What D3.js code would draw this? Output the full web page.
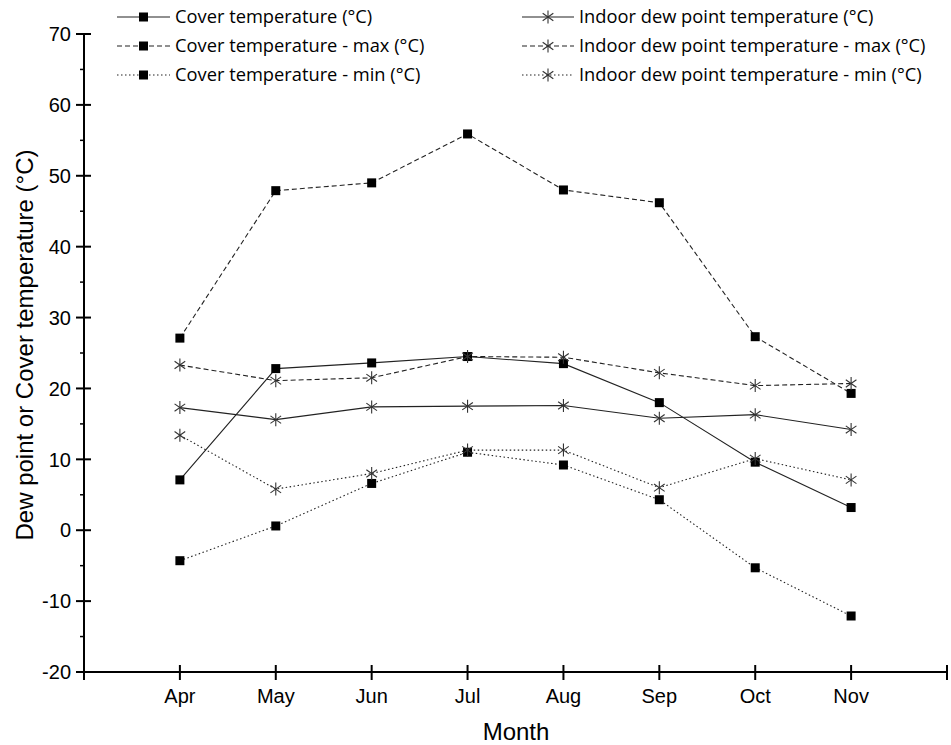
<!DOCTYPE html>
<html>
<head>
<meta charset="utf-8">
<script src="https://cdn.jsdelivr.net/npm/d3@7"></script>
<style>
  html, body { margin: 0; padding: 0; background: #fff; }
  svg { display: block; }
  .axis-text { font-family: "Liberation Sans", Arial, sans-serif; }
  .legend-text { font-family: "Open Sans", "Noto Sans", sans-serif; }
</style>
</head>
<body>
<svg id="chart" width="951" height="745"></svg>
<script>
// Monthly categories
const months = ["Apr", "May", "Jun", "Jul", "Aug", "Sep", "Oct", "Nov"];

// Cover temperature (°C)
const coverTemp    = [7.1, 22.8, 23.6, 24.5, 23.5, 18.0, 9.6, 3.2];
const coverTempMax = [27.1, 47.9, 49.0, 55.9, 48.0, 46.2, 27.3, 19.3];
const coverTempMin = [-4.3, 0.6, 6.6, 11.0, 9.2, 4.3, -5.3, -12.1];

// Indoor dew point temperature (°C)
const dewPoint     = [17.3, 15.6, 17.4, 17.5, 17.6, 15.8, 16.3, 14.2];
const dewPointMax  = [23.3, 21.1, 21.5, 24.5, 24.4, 22.2, 20.4, 20.7];
const dewPointMin  = [13.4, 5.8, 8.0, 11.3, 11.3, 6.0, 10.1, 7.1];

// Axis ticks
const yTicks = [-20, -10, 0, 10, 20, 30, 40, 50, 60, 70];
const yMinorTicks = [-15, -5, 5, 15, 25, 35, 45, 55, 65];

const series = [
  { name: "Cover temperature (°C)", values: coverTemp, marker: "square", dash: null },
  { name: "Cover temperature - max (°C)", values: coverTempMax, marker: "square", dash: "5,3" },
  { name: "Cover temperature - min (°C)", values: coverTempMin, marker: "square", dash: "1.5,2.5" },
  { name: "Indoor dew point temperature (°C)", values: dewPoint, marker: "star", dash: null },
  { name: "Indoor dew point temperature - max (°C)", values: dewPointMax, marker: "star", dash: "5,3" },
  { name: "Indoor dew point temperature - min (°C)", values: dewPointMin, marker: "star", dash: "1.5,2.5" }
];

const svg = d3.select("#chart");
const plotLeft = 84, plotRight = 947, plotTop = 34, plotBottom = 672;

// Months sit at integer positions; the axis spans one step beyond each end
const x = d3.scaleLinear().domain([-1, months.length]).range([plotLeft, plotRight]);
const y = d3.scaleLinear().domain([-20, 70]).range([plotBottom, plotTop]);

// Series lines
const line = d3.line().x((d, i) => x(i)).y(d => y(d));
const plot = svg.append("g");
series.forEach(s => {
  plot.append("path")
    .datum(s.values)
    .attr("d", line)
    .attr("fill", "none")
    .attr("stroke", "#222")
    .attr("stroke-width", 1.1)
    .attr("stroke-dasharray", s.dash);
});

function drawMarker(g, type, cx, cy) {
  if (type === "square") {
    g.append("rect")
      .attr("x", cx - 4.5).attr("y", cy - 4.5)
      .attr("width", 9).attr("height", 9)
      .attr("fill", "#000");
  } else {
    const r = 6.5;
    [90, 35, 145].forEach(a => {
      const rad = a * Math.PI / 180;
      const dx = r * Math.cos(rad), dy = r * Math.sin(rad);
      g.append("line")
        .attr("x1", cx - dx).attr("y1", cy - dy)
        .attr("x2", cx + dx).attr("y2", cy + dy)
        .attr("stroke", "#333").attr("stroke-width", 1.1);
    });
  }
}

// Markers
series.forEach(s => {
  s.values.forEach((v, i) => drawMarker(plot, s.marker, x(i), y(v)));
});

// Y axis
const yAxis = svg.append("g").attr("transform", `translate(${plotLeft},0)`);
yAxis.append("line")
  .attr("x1", 0).attr("x2", 0).attr("y1", plotTop - 1).attr("y2", plotBottom)
  .attr("stroke", "#000").attr("stroke-width", 2);
yAxis.selectAll(".major").data(yTicks).join("line")
  .attr("x1", -8).attr("x2", 7)
  .attr("y1", d => y(d)).attr("y2", d => y(d))
  .attr("stroke", "#000").attr("stroke-width", 2);
yAxis.selectAll(".minor").data(yMinorTicks).join("line")
  .attr("x1", -4).attr("x2", 0)
  .attr("y1", d => y(d)).attr("y2", d => y(d))
  .attr("stroke", "#000").attr("stroke-width", 1.5);
yAxis.selectAll("text").data(yTicks).join("text")
  .attr("class", "axis-text")
  .attr("x", -13).attr("y", d => y(d))
  .attr("dy", "0.36em")
  .attr("text-anchor", "end")
  .attr("font-size", 20)
  .attr("fill", "#000")
  .text(d => d);

// X axis
const xAxis = svg.append("g").attr("transform", `translate(0,${plotBottom})`);
xAxis.append("line")
  .attr("x1", plotLeft - 1).attr("x2", plotRight + 1).attr("y1", 0).attr("y2", 0)
  .attr("stroke", "#000").attr("stroke-width", 2);
const xTickPos = d3.range(-1, months.length + 1);
xAxis.selectAll(".tick").data(xTickPos).join("line")
  .attr("x1", d => x(d)).attr("x2", d => x(d))
  .attr("y1", -7).attr("y2", 8)
  .attr("stroke", "#000").attr("stroke-width", 2);
xAxis.selectAll("text").data(months).join("text")
  .attr("class", "axis-text")
  .attr("x", (d, i) => x(i)).attr("y", 31)
  .attr("text-anchor", "middle")
  .attr("font-size", 20)
  .attr("fill", "#000")
  .text(d => d);

// Axis titles
svg.append("text")
  .attr("class", "axis-text")
  .attr("x", 516).attr("y", 740)
  .attr("text-anchor", "middle")
  .attr("font-size", 24)
  .attr("fill", "#000")
  .text("Month");
svg.append("text")
  .attr("class", "axis-text")
  .attr("transform", "translate(33,345) rotate(-90)")
  .attr("text-anchor", "middle")
  .attr("font-size", 24)
  .attr("fill", "#000")
  .text("Dew point or Cover temperature (°C)");

// Legend: two columns of three entries
const legendCols = [
  { x0: 117, x1: 170, tx: 175 },
  { x0: 522, x1: 574, tx: 579 }
];
const legendRows = [17, 46, 75];
series.forEach((s, i) => {
  const col = legendCols[Math.floor(i / 3)];
  const ly = legendRows[i % 3];
  const g = svg.append("g");
  g.append("line")
    .attr("x1", col.x0).attr("x2", col.x1)
    .attr("y1", ly).attr("y2", ly)
    .attr("stroke", "#222").attr("stroke-width", 1.1)
    .attr("stroke-dasharray", s.dash);
  drawMarker(g, s.marker, (col.x0 + col.x1) / 2, ly);
  g.append("text")
    .attr("class", "legend-text")
    .attr("x", col.tx).attr("y", ly)
    .attr("dy", "0.35em")
    .attr("font-size", 18.3)
    .attr("fill", "#000")
    .text(s.name);
});
</script>
</body>
</html>
